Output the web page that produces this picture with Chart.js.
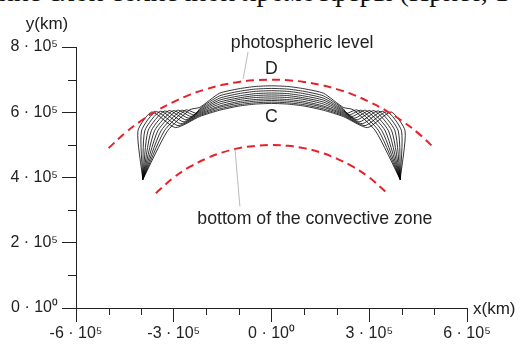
<!DOCTYPE html>
<html>
<head>
<meta charset="utf-8">
<script src="https://cdn.jsdelivr.net/npm/chart.js@4"></script>
<style>
  html, body { margin: 0; padding: 0; background: #fff; }
  body { width: 520px; height: 349px; position: relative; overflow: hidden; }
  #heading {
    position: absolute; left: -1px; top: -22px;
    font: 28px/28px "Liberation Serif", "Times New Roman", serif;
    color: #111; white-space: nowrap;
  }
  #chart-wrap { position: absolute; left: 0; top: 0; width: 520px; height: 349px; }
</style>
</head>
<body>
<div id="heading">ние слой солнечной хромосферы (Приет, 1</div>
<div id="chart-wrap"><canvas id="loops-chart"></canvas></div>
<script>
// Loop field lines between convective zone bottom and photosphere (units of 10^5 km)

// Axis ticks
const xTickValues = [-6, -3, 0, 3, 6];
const xTickLabels = ['-6 · 10⁵', '-3 · 10⁵', '0 · 10⁰', '3 · 10⁵', '6 · 10⁵'];
const yTickValues = [0, 2, 4, 6, 8];
const yTickLabels = ['0 · 10⁰', '2 · 10⁵', '4 · 10⁵', '6 · 10⁵', '8 · 10⁵'];

// Photospheric level (upper dashed arc)
const photoX = [-5.0, -4.5, -4.0, -3.5, -3.0, -2.5, -2.0, -1.5, -1.0, -0.5, 0, 0.5, 1.0, 1.5, 2.0, 2.5, 3.0, 3.5, 4.0, 4.5, 5.0];
const photoY = [4.90, 5.36, 5.74, 6.06, 6.32, 6.54, 6.71, 6.84, 6.93, 6.98, 7.00, 6.98, 6.93, 6.84, 6.71, 6.54, 6.32, 6.06, 5.74, 5.36, 4.90];

// Bottom of the convective zone (lower dashed arc)
const convX = [-3.55, -3.0, -2.5, -2.0, -1.5, -1.0, -0.5, 0, 0.5, 1.0, 1.5, 2.0, 2.5, 3.0, 3.55];
const convY = [3.52, 4.00, 4.33, 4.58, 4.77, 4.90, 4.97, 5.00, 4.97, 4.90, 4.77, 4.58, 4.33, 4.00, 3.52];

// Field lines, left half (the figure is mirror symmetric about x = 0).
// Line 0 is the lowest one (C), line 9 the highest.
const footPoint = [-3.95, 3.94];
const fanTopX   = [-4.10, -3.99, -3.89, -3.79, -3.69, -3.59, -3.49, -3.39, -3.29, -3.19];
const fanTopY   = [5.43, 5.43, 5.43, 5.43, 5.43, 5.43, 5.43, 5.43, 5.43, 5.43];
const hatchTopX = [-3.67, -3.54, -3.41, -3.28, -3.15, -3.02, -2.89, -2.76, -2.63, -2.50];
const hatchTopY = [6.01, 6.02, 6.03, 6.04, 6.05, 6.05, 6.06, 6.06, 6.07, 6.08];
const joinX     = [-2.95, -2.87, -2.79, -2.71, -2.63, -2.55, -2.47, -2.39, -2.31, null];
const joinY     = [5.53, 5.59, 5.65, 5.71, 5.77, 5.82, 5.87, 5.92, 5.97, null];
const domeX     = [-2.2, -1.6, -1.0, -0.5, 0];
const domeY = [
  [5.87, 6.06, 6.19, 6.25, 6.27],
  [5.90, 6.10, 6.23, 6.29, 6.31],
  [5.93, 6.15, 6.28, 6.34, 6.36],
  [5.96, 6.19, 6.33, 6.39, 6.41],
  [5.99, 6.25, 6.39, 6.45, 6.47],
  [6.02, 6.31, 6.44, 6.51, 6.53],
  [6.05, 6.37, 6.50, 6.57, 6.59],
  [6.08, 6.43, 6.57, 6.64, 6.66],
  [6.11, 6.50, 6.64, 6.71, 6.73],
  [6.15, 6.58, 6.72, 6.79, 6.81],
];

// Leader lines from the labels to the arcs
const leaderTopX = [-0.72, -0.87];
const leaderTopY = [7.85, 7.02];
const leaderBotX = [-1.12, -0.97];
const leaderBotY = [4.87, 3.11];

const RED = '#e8202a';
const INK = '#222';
const FONT = '"Liberation Sans", Arial, sans-serif';

function toPoints(xs, ys) {
  return xs.map((x, i) => ({ x, y: ys[i] }));
}

// One full field line: left half as read, right half as its mirror image
function buildLoop(i) {
  const left = [
    { x: footPoint[0], y: footPoint[1] },
    { x: fanTopX[i], y: fanTopY[i] },
    { x: hatchTopX[i], y: hatchTopY[i] },
  ];
  if (joinX[i] !== null) left.push({ x: joinX[i], y: joinY[i] });
  domeX.forEach((x, k) => left.push({ x, y: domeY[i][k] }));

  const right = left.slice(0, -1).reverse().map((p) => ({ x: -p.x, y: p.y }));
  return left.concat(right);
}

function lineSet(data, color, width, dash, tension) {
  return {
    data,
    showLine: true,
    borderColor: color,
    borderWidth: width,
    borderDash: dash,
    pointRadius: 0,
    tension,
    fill: false,
  };
}

const datasets = [
  lineSet(toPoints(photoX, photoY), RED, 2, [8, 5], 0.4),
  lineSet(toPoints(convX, convY), RED, 2, [8, 5], 0.4),
  lineSet(toPoints(leaderTopX, leaderTopY), '#aaa', 0.8, [], 0),
  lineSet(toPoints(leaderBotX, leaderBotY), '#aaa', 0.8, [], 0),
];
for (let i = 0; i < fanTopX.length; i++) {
  datasets.push(lineSet(buildLoop(i), '#000', 0.8, [], 0.2));
}

// Short minor ticks plus the text labels inside the plot
const decorPlugin = {
  id: 'decor',
  afterDraw(chart) {
    const { ctx, scales: { x, y } } = chart;
    ctx.save();
    ctx.strokeStyle = INK;
    ctx.lineWidth = 1;
    ctx.beginPath();
    for (let v = -6; v <= 6; v++) {
      if (xTickValues.includes(v)) continue;
      const px = Math.round(x.getPixelForValue(v)) + 0.5;
      ctx.moveTo(px, y.bottom);
      ctx.lineTo(px, y.bottom + 7);
    }
    for (let v = 0; v <= 8; v++) {
      if (yTickValues.includes(v)) continue;
      const py = Math.round(y.getPixelForValue(v)) + 0.5;
      ctx.moveTo(x.left, py);
      ctx.lineTo(x.left - 8, py);
    }
    ctx.stroke();

    ctx.fillStyle = INK;
    ctx.font = `17.7px ${FONT}`;
    ctx.textAlign = 'center';
    ctx.textBaseline = 'middle';
    ctx.fillText('photospheric level', x.getPixelForValue(0.94), y.getPixelForValue(8.13));
    ctx.fillText('D', x.getPixelForValue(0), y.getPixelForValue(7.33));
    ctx.fillText('C', x.getPixelForValue(0), y.getPixelForValue(5.86));
    ctx.fillText('bottom of the convective zone', x.getPixelForValue(1.33), y.getPixelForValue(2.73));

    ctx.font = `17px ${FONT}`;
    ctx.fillText('y(km)', x.left - 29, y.top - 23);
    ctx.textAlign = 'left';
    ctx.fillText('x(km)', x.right + 6, y.bottom + 1);
    ctx.restore();
  },
};

function tickColor(majors) {
  return (c) => (majors.includes(c.tick.value) ? INK : 'rgba(0,0,0,0)');
}

new Chart(document.getElementById('loops-chart'), {
  type: 'scatter',
  data: { datasets },
  options: {
    responsive: true,
    maintainAspectRatio: false,
    animation: false,
    layout: { padding: { top: 47, right: 53, left: 0, bottom: 0 } },
    plugins: { legend: { display: false }, tooltip: { enabled: false } },
    scales: {
      x: {
        type: 'linear',
        min: -6,
        max: 6,
        afterFit: (s) => { s.height = 41; },
        border: { display: true, color: INK, width: 1 },
        grid: { drawOnChartArea: false, tickLength: 14, tickColor: tickColor(xTickValues) },
        ticks: {
          stepSize: 1,
          autoSkip: false,
          maxRotation: 0,
          padding: 2,
          color: INK,
          font: { family: FONT, size: 16 },
          callback: (v) => {
            const k = xTickValues.indexOf(v);
            return k >= 0 ? xTickLabels[k] : '';
          },
        },
      },
      y: {
        type: 'linear',
        min: 0,
        max: 8,
        afterFit: (s) => { s.width = 76; },
        border: { display: true, color: INK, width: 1 },
        grid: { drawOnChartArea: false, tickLength: 14, tickColor: tickColor(yTickValues) },
        ticks: {
          stepSize: 1,
          autoSkip: false,
          padding: 4,
          color: INK,
          font: { family: FONT, size: 16 },
          callback: (v) => {
            const k = yTickValues.indexOf(v);
            return k >= 0 ? yTickLabels[k] : '';
          },
        },
      },
    },
  },
  plugins: [decorPlugin],
});
</script>
</body>
</html>
